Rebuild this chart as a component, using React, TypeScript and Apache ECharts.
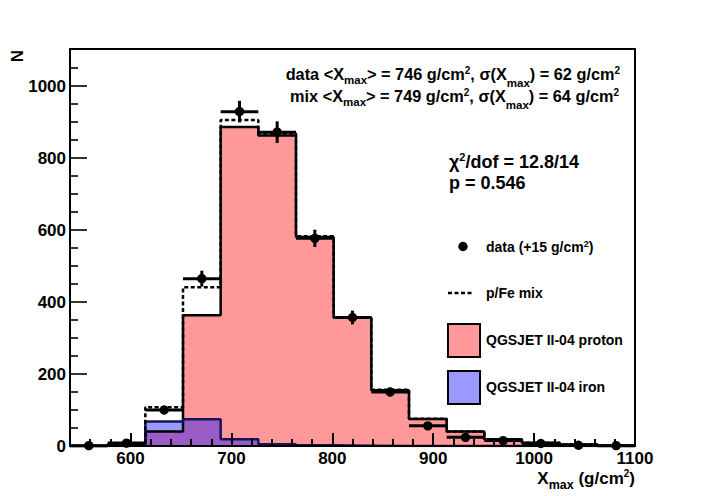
import React, { useEffect, useRef } from 'react';
import * as echarts from 'echarts';

const F = '"Liberation Sans", Arial, Helvetica, sans-serif';

// Histogram bin edges (g/cm^2)
const binEdges = [540, 577.33, 614.67, 652, 689.33, 726.67, 764, 801.33, 838.67, 876, 913.33, 950.67, 988, 1025.33, 1062.67, 1100];
// Data points (shifted +15 g/cm^2) and their errors
const dataCounts = [1, 8, 100, 465, 929, 872, 577, 357, 150, 56, 24, 15, 7, 2, 1];
const dataErrors = [1, 3, 10, 22, 30, 30, 24, 19, 12, 7, 5, 4, 3, 1, 1];
// Model components
const protonCounts = [0, 1, 40, 363, 886, 863, 581, 356, 155, 75, 40, 19, 9, 4, 1];
const ironCounts = [0, 3, 68, 74, 19, 5, 2, 1, 0, 0, 0, 0, 0, 0, 0];
const mixCounts = [0, 4, 108, 441, 906, 868, 583, 357, 156, 76, 40, 19, 9, 4, 1];

// Ticks
const xMajorTicks = [600, 700, 800, 900, 1000, 1100];
const xMinorTicks = [560, 580, 620, 640, 660, 680, 720, 740, 760, 780, 820, 840, 860, 880, 920, 940, 960, 980, 1020, 1040, 1060, 1080];
const yMajorTicks = [0, 200, 400, 600, 800, 1000];
const yMinorTicks = [50, 100, 150, 250, 300, 350, 450, 500, 550, 650, 700, 750, 850, 900, 950, 1050];

const X_MIN = 540;
const X_MAX = 1100;
const Y_MAX = 1103;

const PROTON_FILL = '#ff9999';
const IRON_FILL = '#9999ff';
const OVERLAP_FILL = '#9b5cc6';

function binRects(values: number[]) {
  return values.map((v, i) => [binEdges[i], binEdges[i + 1], v]);
}

function stepPoints(values: number[]) {
  const pts: number[][] = [[binEdges[0], 0]];
  values.forEach((v, i) => pts.push([binEdges[i], v]));
  pts.push([binEdges[binEdges.length - 1], 0]);
  return pts;
}

function rectSeries(values: number[], color: string, z: number) {
  return {
    type: 'custom',
    z,
    encode: { x: [0, 1], y: 2 },
    data: binRects(values),
    renderItem: (params: any, api: any) => {
      const lo = api.value(0);
      const hi = api.value(1);
      const v = api.value(2);
      const a = api.coord([lo, 0]);
      const b = api.coord([hi, v]);
      return {
        type: 'rect',
        shape: { x: a[0], y: b[1], width: b[0] - a[0], height: a[1] - b[1] },
        style: { fill: color, stroke: v > 0 ? color : null, lineWidth: 0.8 },
      };
    },
  };
}

function richStyles(sub: number, sup: number, subPad: number, sub2Pad: number, supPad: number) {
  const common = { fontFamily: F, fontWeight: 'bold', fill: '#000' };
  return {
    s: { ...common, fontSize: sub, padding: [subPad, 0, 0, 0] },
    s2: { ...common, fontSize: sub, padding: [sub2Pad, 0, 0, 0] },
    p: { ...common, fontSize: sup, padding: [0, 0, supPad, 0] },
  };
}

function txt(x: number, y: number, text: string, size: number, align: string, rich: any, extra: any = {}) {
  return {
    type: 'text',
    x,
    y,
    z: 100,
    ...extra,
    style: {
      text,
      fontFamily: F,
      fontWeight: 'bold',
      fontSize: size,
      fill: '#000',
      align,
      verticalAlign: 'middle',
      rich,
    },
  };
}

const plain = (v: number) => String(v);

function tickAxis(kind: 'x' | 'y', ticks: number[], len: number, withLabels: boolean) {
  const isX = kind === 'x';
  return {
    type: 'value',
    min: isX ? X_MIN : 0,
    max: isX ? X_MAX : Y_MAX,
    position: isX ? 'bottom' : 'left',
    offset: 0,
    z: 10,
    axisLine: { show: withLabels, onZero: false, lineStyle: { color: '#000', width: 2 } },
    axisTick: { show: true, inside: true, length: len, customValues: ticks, lineStyle: { color: '#000', width: isX ? 2 : 1.6 } },
    axisLabel: withLabels
      ? {
          show: true,
          customValues: ticks,
          formatter: plain,
          margin: 4,
          color: '#000',
          fontFamily: F,
          fontWeight: 'bold',
          fontSize: 17,
        }
      : { show: false, customValues: ticks },
    splitLine: { show: false },
  };
}

function frameAxis(kind: 'x' | 'y') {
  const isX = kind === 'x';
  return {
    type: 'value',
    min: isX ? X_MIN : 0,
    max: isX ? X_MAX : Y_MAX,
    position: isX ? 'top' : 'right',
    offset: 0,
    z: 10,
    axisLine: { show: true, onZero: false, lineStyle: { color: '#000', width: 2 } },
    axisTick: { show: false },
    axisLabel: { show: false },
    splitLine: { show: false },
  };
}

export default function App() {
  const ref = useRef<HTMLDivElement>(null);
  useEffect(() => {
    if (!ref.current) return;
    const chart = echarts.init(ref.current, null, { renderer: 'svg' });
    const statsRich = richStyles(11.5, 10, 12, 17, 8);
    const chiRich = richStyles(12, 11, 12, 12, 10);
    const legRich = richStyles(10, 9, 10, 10, 7);
    const axRich = richStyles(12.5, 10, 14, 14, 10);

    const option: any = {
      animation: false,
      backgroundColor: '#fff',
      grid: {
        left: 70,
        right: 71,
        top: 49,
        bottom: 50,
      },
      xAxis: [tickAxis('x', xMajorTicks, 13, true), tickAxis('x', xMinorTicks, 7, false), frameAxis('x')],
      yAxis: [tickAxis('y', yMajorTicks, 17, true), tickAxis('y', yMinorTicks, 8, false), frameAxis('y')],
      series: [
        rectSeries(protonCounts, PROTON_FILL, 1),
        rectSeries(ironCounts, IRON_FILL, 2),
        rectSeries(protonCounts.map((p, i) => Math.min(p, ironCounts[i])), OVERLAP_FILL, 3),
        {
          type: 'line',
          z: 4,
          step: 'end',
          showSymbol: false,
          symbol: 'none',
          data: stepPoints(protonCounts),
          lineStyle: { color: '#000', width: 2.5 },
        },
        {
          type: 'line',
          z: 4,
          step: 'end',
          showSymbol: false,
          symbol: 'none',
          data: stepPoints(ironCounts),
          lineStyle: { color: '#14145a', width: 2.5 },
        },
        {
          type: 'line',
          z: 6,
          step: 'end',
          showSymbol: false,
          symbol: 'none',
          data: stepPoints(mixCounts),
          lineStyle: { color: '#000', width: 2.5, type: [4, 2.5] },
        },
        {
          type: 'custom',
          z: 8,
          encode: { x: 0, y: 1 },
          data: dataCounts.map((v, i) => [
            (binEdges[i] + binEdges[i + 1]) / 2,
            v,
            dataErrors[i],
            binEdges[i],
            binEdges[i + 1],
          ]),
          renderItem: (params: any, api: any) => {
            const xc = api.value(0);
            const v = api.value(1);
            const e = api.value(2);
            const lo = api.value(3);
            const hi = api.value(4);
            const c = api.coord([xc, v]);
            const l = api.coord([lo, v]);
            const r = api.coord([hi, v]);
            const t = api.coord([xc, v + e]);
            const b = api.coord([xc, Math.max(0, v - e)]);
            return {
              type: 'group',
              children: [
                { type: 'line', shape: { x1: l[0], y1: l[1], x2: r[0], y2: r[1] }, style: { stroke: '#000', lineWidth: 3 } },
                { type: 'line', shape: { x1: t[0], y1: t[1], x2: b[0], y2: b[1] }, style: { stroke: '#000', lineWidth: 3 } },
                { type: 'circle', shape: { cx: c[0], cy: c[1], r: 4.7 }, style: { fill: '#000' } },
              ],
            };
          },
        },
      ],
      graphic: [
        txt(17, 56, 'N', 17, 'center', undefined, { rotation: Math.PI / 2 }),
        txt(635, 478, 'X{s|max} (g/cm{p|2})', 17, 'right', axRich),
        txt(620, 74, 'data <X{s|max}> = 746 g/cm{p|2}, σ(X{s2|max}) = 62 g/cm{p|2}', 16.3, 'right', statsRich),
        txt(619, 96, 'mix <X{s|max}> = 749 g/cm{p|2}, σ(X{s2|max}) = 64 g/cm{p|2}', 16.3, 'right', statsRich),
        txt(449, 162, 'χ{p|2}/dof = 12.8/14', 18, 'left', chiRich),
        txt(449, 183, 'p = 0.546', 18, 'left', chiRich),
        {
          type: 'circle',
          z: 100,
          shape: { cx: 463, cy: 246.5, r: 4.7 },
          style: { fill: '#000' },
        },
        txt(486, 247, 'data (+15 g/cm{p|2})', 14, 'left', legRich),
        {
          type: 'line',
          z: 100,
          shape: { x1: 448, y1: 293, x2: 473, y2: 293 },
          style: { stroke: '#000', lineWidth: 2.5, lineDash: [4, 2.5] },
        },
        txt(486, 293, 'p/Fe mix', 14, 'left', legRich),
        {
          type: 'rect',
          z: 100,
          shape: { x: 448, y: 324, width: 32, height: 33 },
          style: { fill: PROTON_FILL, stroke: '#000', lineWidth: 2 },
        },
        txt(486, 340, 'QGSJET II-04 proton', 14, 'left', legRich),
        {
          type: 'rect',
          z: 100,
          shape: { x: 448, y: 371, width: 32, height: 33 },
          style: { fill: IRON_FILL, stroke: '#000', lineWidth: 2 },
        },
        txt(486, 387, 'QGSJET II-04 iron', 14, 'left', legRich),
      ],
    };
    chart.setOption(option);
    return () => chart.dispose();
  }, []);
  return (
    <div
      ref={ref}
      style={{ position: 'absolute', left: 0, top: 0, width: 706, height: 496, background: '#fff' }}
    />
  );
}
